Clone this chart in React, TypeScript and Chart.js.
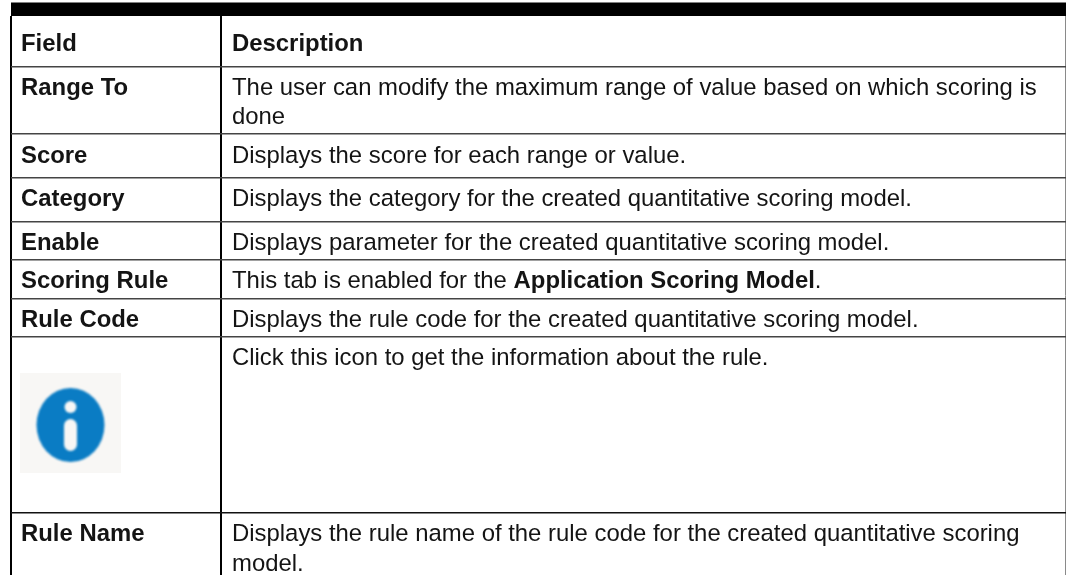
import React, { useEffect, useRef } from "react";
import { Chart, registerables } from "chart.js";

Chart.register(...registerables);

const WIDTH = 1066;
const HEIGHT = 575;

// Table content
const fieldLabels = ["Field", "Range To", "Score", "Category", "Enable", "Scoring Rule", "Rule Code", "", "Rule Name"];
const descriptionLines: string[][][] = [
  [["b", "Description"]],
  [["r", "The user can modify the maximum range of value based on which scoring is"], ["n", "done"]],
  [["r", "Displays the score for each range or value."]],
  [["r", "Displays the category for the created quantitative scoring model."]],
  [["r", "Displays parameter for the created quantitative scoring model."]],
  [["r", "This tab is enabled for the "], ["b", "Application Scoring Model"], ["r", "."]],
  [["r", "Displays the rule code for the created quantitative scoring model."]],
  [["r", "Click this icon to get the information about the rule."]],
  [["r", "Displays the rule name of the rule code for the created quantitative scoring"], ["n", "model."]],
];

// Table rules, in axis units
const columnRules = [11, 221, 1065.5];
const columnRuleColors = ["#000000", "#000000", "#8a8a8a"];
const columnRuleWidths = [2, 2, 1];
const rowRules = [66.5, 134, 178, 222, 260, 298.5, 337, 512.5];
const rowRuleColors = ["#444444", "#444444", "#444444", "#444444", "#444444", "#444444", "#444444", "#111111"];
const rowRuleWidths = [1.5, 1.5, 1.5, 1.5, 1.5, 1.5, 1.5, 1.5];

const rowBaselines = [51, 94.5, 162.5, 206, 249.5, 288, 326.5, 365, 541];
const fieldX = 21;
const descriptionX = 232;
const lineStep = 29.5;
const fontSize = 23.9;
const fontFamily = '"Liberation Sans", Arial, sans-serif';
const textColor = "#141414";

const headerBand = [
  { x: 11, y: 9.3 },
  { x: 1066, y: 9.3 },
];
const iconPoint = [{ x: 70.5, y: 423 }];

function makeIcon() {
  const c = document.createElement("canvas");
  c.width = 101;
  c.height = 100;
  const g = c.getContext("2d")!;
  g.fillStyle = "#f8f7f5";
  g.fillRect(0, 0, 101, 100);
  g.filter = "blur(1px)";
  g.fillStyle = "#0a7cc4";
  g.beginPath();
  g.ellipse(50.5, 52, 34, 37, 0, 0, Math.PI * 2);
  g.fill();
  g.fillStyle = "#f8f7f5";
  g.beginPath();
  g.arc(50.5, 34, 6, 0, Math.PI * 2);
  g.fill();
  g.beginPath();
  g.roundRect(44, 46, 13, 32, 6.5);
  g.fill();
  return c;
}

const tablePlugin = {
  id: "tableText",
  afterDatasetsDraw(chart: any) {
    const { ctx, scales } = chart;
    ctx.save();
    ctx.fillStyle = textColor;
    ctx.textBaseline = "alphabetic";
    ctx.textAlign = "left";
    ctx.filter = "blur(0.35px)";
    const xF = scales.x.getPixelForValue(fieldX);
    const xD = scales.x.getPixelForValue(descriptionX);
    fieldLabels.forEach((label, i) => {
      const y = scales.y.getPixelForValue(rowBaselines[i]);
      ctx.font = `bold ${fontSize}px ${fontFamily}`;
      if (label) ctx.fillText(label, xF, y);
      let x = xD;
      let yy = y;
      descriptionLines[i].forEach(([kind, text]) => {
        if (kind === "n") {
          x = xD;
          yy += lineStep;
        }
        ctx.font = `${kind === "b" ? "bold " : ""}${fontSize}px ${fontFamily}`;
        ctx.fillText(text, x, yy);
        x += ctx.measureText(text).width;
      });
    });
    ctx.restore();
  },
};

export default function App() {
  const ref = useRef<HTMLCanvasElement>(null);
  useEffect(() => {
    document.body.style.margin = "0";
    document.body.style.background = "#ffffff";
    const chart = new Chart(ref.current!, {
      type: "scatter",
      data: {
        datasets: [
          {
            label: "Header band",
            type: "line",
            data: headerBand,
            borderColor: "#000000",
            borderWidth: 13.5,
            pointRadius: 0,
            clip: false as any,
          },
          {
            label: "Info icon",
            data: iconPoint,
            pointStyle: makeIcon() as any,
            pointRadius: 50,
            clip: false as any,
          },
        ],
      },
      options: {
        animation: false,
        responsive: false,
        layout: { autoPadding: false, padding: { left: 11, top: 16, right: 0, bottom: 0 } },
        plugins: { legend: { display: false }, tooltip: { enabled: false } },
        scales: {
          x: {
            type: "linear",
            min: 11,
            max: 1066,
            border: { display: false },
            ticks: { display: false, autoSkip: false },
            afterBuildTicks: (s: any) => {
              s.ticks = columnRules.map((value) => ({ value }));
            },
            grid: {
              drawTicks: false,
              tickLength: 0,
              color: (c: any) => columnRuleColors[c.index],
              lineWidth: (c: any) => columnRuleWidths[c.index],
            },
          },
          y: {
            type: "linear",
            reverse: true,
            min: 16,
            max: 575,
            border: { display: false },
            ticks: { display: false, autoSkip: false },
            afterBuildTicks: (s: any) => {
              s.ticks = rowRules.map((value) => ({ value }));
            },
            grid: {
              drawTicks: false,
              tickLength: 0,
              color: (c: any) => rowRuleColors[c.index],
              lineWidth: (c: any) => rowRuleWidths[c.index],
            },
          },
        },
      },
      plugins: [tablePlugin],
    } as any);
    return () => chart.destroy();
  }, []);
  return <canvas ref={ref} width={WIDTH} height={HEIGHT} style={{ display: "block" }} />;
}
